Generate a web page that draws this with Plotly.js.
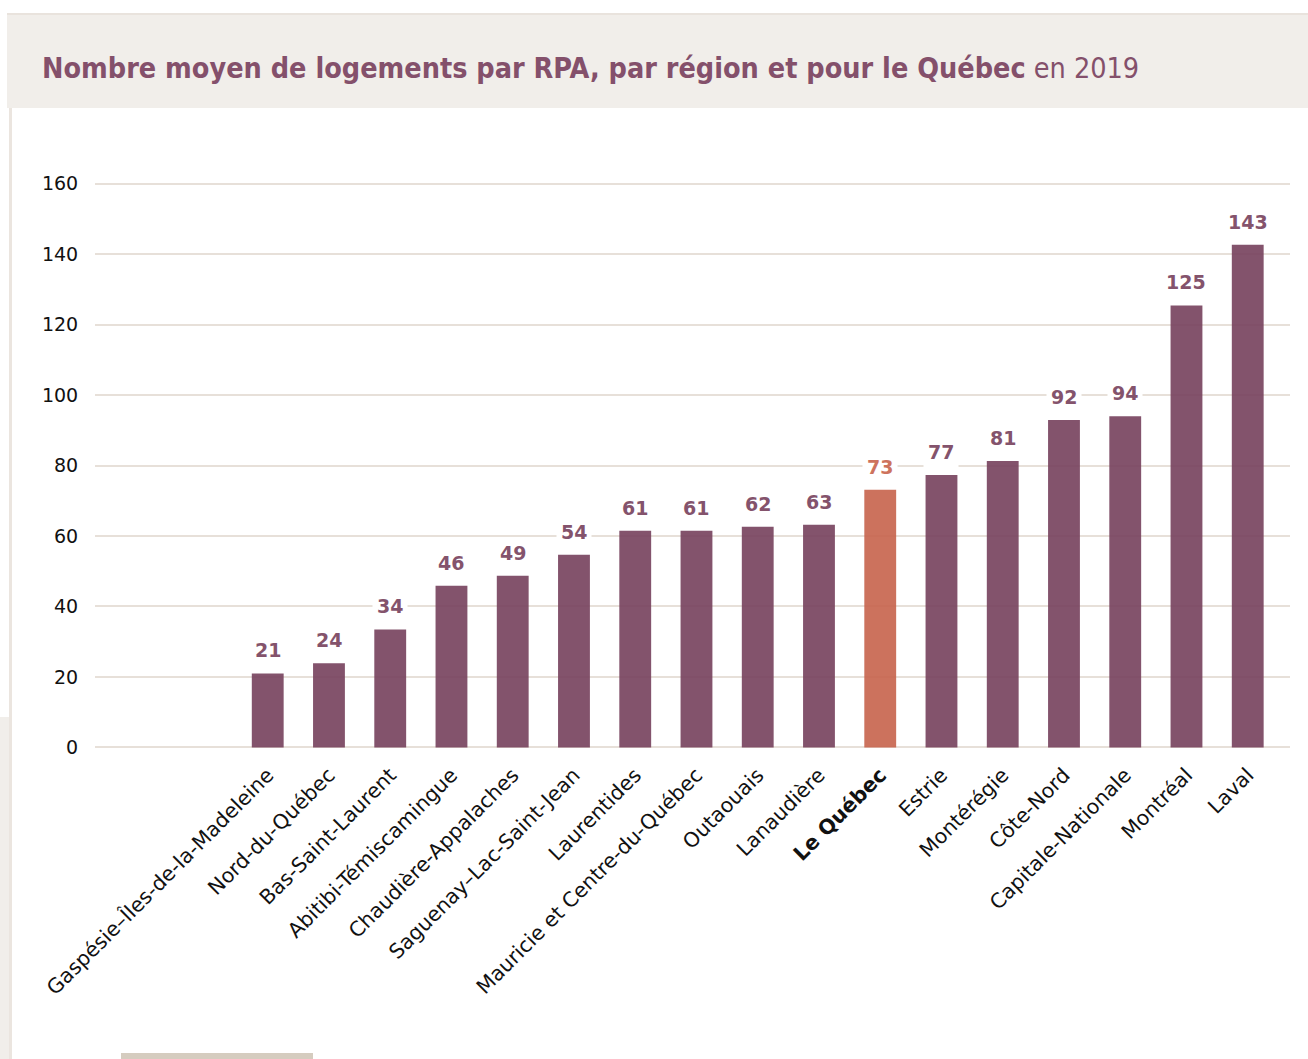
<!DOCTYPE html>
<html><head><meta charset="utf-8">
<script src="https://cdn.plot.ly/plotly-3.0.1.min.js"></script>
<style>
html,body{margin:0;padding:0;background:#fff;}
#wrap{position:relative;width:1308px;height:1059px;overflow:hidden;}
#band{position:absolute;left:7px;top:13px;width:1301px;height:95px;background:#f1eeea;border-top:2px solid #e9e3dd;box-sizing:border-box;}
#vline{position:absolute;left:9px;top:108px;width:3px;height:951px;background:#ebe5df;}
#lblock{position:absolute;left:0;top:717px;width:9px;height:342px;background:#f1eeea;}
#bblock{position:absolute;left:121px;top:1053px;width:192px;height:6px;background:#d5ccbf;}
#chart{position:absolute;left:0;top:0;width:1308px;height:1059px;}
</style></head>
<body><div id="wrap">
<div id="band"></div><div id="vline"></div><div id="lblock"></div><div id="bblock"></div>
<div id="chart"></div></div>
<script>
const regions = ["Gaspésie–Îles-de-la-Madeleine","Nord-du-Québec","Bas-Saint-Laurent","Abitibi-Témiscamingue","Chaudière-Appalaches","Saguenay–Lac-Saint-Jean","Laurentides","Mauricie et Centre-du-Québec","Outaouais","Lanaudière","Le Québec","Estrie","Montérégie","Côte-Nord","Capitale-Nationale","Montréal","Laval"];
const values = [21.0,23.9,33.5,45.9,48.7,54.7,61.5,61.5,62.6,63.2,73.1,77.3,81.3,92.9,94.0,125.4,142.6];
const valueLabels = ["21","24","34","46","49","54","61","61","62","63","73","77","81","92","94","125","143"];
const highlight = "Le Québec";
const yTicks = [0,20,40,60,80,100,120,140,160];

const purple = "rgb(118,64,92)";
const orange = "rgb(199,99,75)";
const purpleText = "#84536c";
const orangeText = "#cd735d";

const colors = regions.map(r => r === highlight ? orange : purple);
const ticktext = regions.map(r => r === highlight ? "<b>" + r + "</b>" : r);

const annotations = regions.map((r, i) => ({
  x: r, y: values[i], xref: "x", yref: "y",
  text: "<b>" + valueLabels[i] + "</b>", showarrow: false,
  yanchor: "middle", yshift: 23,
  bgcolor: "#ffffff", borderpad: 4,
  font: {family: "DejaVu Sans, Verdana, sans-serif", size: 19, color: r === highlight ? orangeText : purpleText}
}));

const trace = {
  type: "bar", x: regions, y: values,
  marker: {color: colors, opacity: 0.9},
  width: 0.52, hoverinfo: "skip"
};

const layout = {
  width: 1308, height: 1059,
  paper_bgcolor: "rgba(0,0,0,0)", plot_bgcolor: "rgba(0,0,0,0)",
  margin: {l: 95, r: 18, t: 179.5, b: 307.5},
  showlegend: false,
  title: {
    text: "<b>Nombre moyen de logements par RPA, par région et pour le Québec</b> en 2019",
    xref: "container", yref: "container", x: 42/1308, xanchor: "left",
    y: 1 - 68/1059, yanchor: "middle",
    font: {family: "DejaVu Sans Condensed, sans-serif", size: 28.5, color: "#84506b"}
  },
  xaxis: {
    type: "category", categoryorder: "array", categoryarray: regions,
    tickvals: regions, ticktext: ticktext,
    range: [-2.82, 16.69], tickangle: -45,
    showgrid: false, showline: false, zeroline: false,
    ticks: "outside", ticklen: 3, tickcolor: "rgba(0,0,0,0)",
    tickfont: {family: "DejaVu Sans, Verdana, sans-serif", size: 20.5, color: "#111"}
  },
  yaxis: {
    range: [-1, 161], tickvals: yTicks, ticktext: yTicks.map(String),
    showgrid: true, gridcolor: "#e7e0d9", gridwidth: 2,
    zeroline: false, showline: false,
    ticks: "outside", ticklen: 12, tickcolor: "rgba(0,0,0,0)",
    tickfont: {family: "DejaVu Sans, Verdana, sans-serif", size: 19, color: "#111"}
  },
  annotations: annotations
};

Plotly.newPlot("chart", [trace], layout, {displayModeBar: false, staticPlot: true});
</script></body></html>
